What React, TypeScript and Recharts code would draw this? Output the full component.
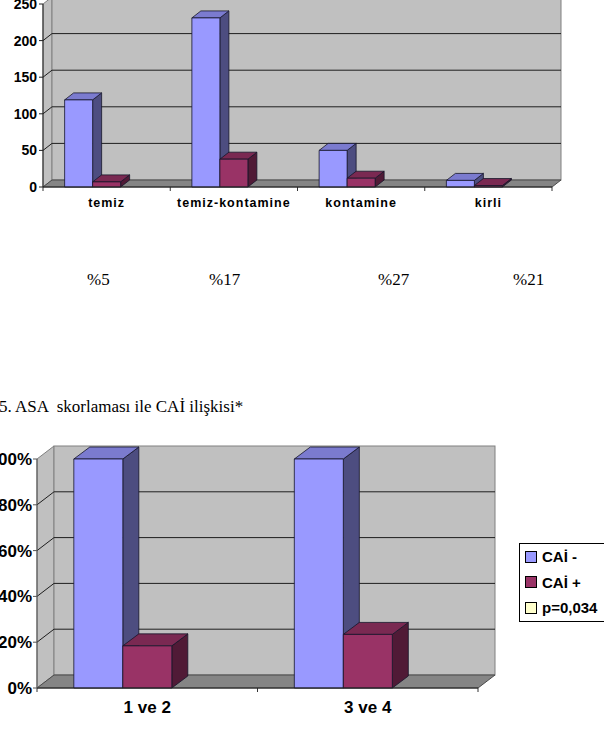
import { BarChart, Bar, XAxis, YAxis, ReferenceArea, Legend } from "recharts";

// Wound class chart (CAİ counts per class)
const woundClasses = ["temiz", "temiz-kontamine", "kontamine", "kirli"];
const woundNegative = [119, 231, 50, 9];
const woundPositive = [7, 38, 12, 2];
const woundTicks = [0, 50, 100, 150, 200, 250];
const woundRates = ["%5", "%17", "%27", "%21"];

// ASA score chart
const asaGroups = ["1 ve 2", "3 ve 4"];
const asaNegative = [100, 100];
const asaPositive = [18.4, 23.4];
const asaTicks = [0, 20, 40, 60, 80, 100];

const seriesNames = ["CAİ -", "CAİ +", "p=0,034"];
const caption = "5. ASA  skorlaması ile CAİ ilişkisi*";

const rateLeft = [87, 209, 378, 513];

const SANS = '"Liberation Sans", Arial, sans-serif';
const SERIF = '"Liberation Serif", "Times New Roman", serif';
const EDGE = "#15152a";

const BLUE = { front: "#9999FF", top: "#7B7BCF", side: "#4D4D80" };
const PLUM = { front: "#993366", top: "#7A2952", side: "#501A36" };
const CREAM = { front: "#FFFFCC", top: "#E0E0A8", side: "#A0A080" };

// Excel-style 3D column: front face, top face and right side face
function boxShape(dx: number, dy: number, top: string, side: string) {
  return (props: any) => {
    const { x, y, width, height, fill } = props;
    if (!height || !isFinite(height) || height <= 0) return <g />;
    const r = x + width;
    const b = y + height;
    return (
      <g stroke={EDGE} strokeWidth={0.8} strokeLinejoin="round">
        <polygon points={`${r},${b} ${r + dx},${b - dy} ${r + dx},${y - dy} ${r},${y}`} fill={side} />
        <polygon points={`${x},${y} ${x + dx},${y - dy} ${r + dx},${y - dy} ${r},${y}`} fill={top} />
        <rect x={x} y={y} width={width} height={height} fill={fill} />
      </g>
    );
  };
}

// back wall, side wall, floor, gridlines and the category boundary ticks
function frameShape(ticks: number[], max: number, cats: number, dx: number, dy: number) {
  return (props: any) => {
    const { x, y, width, height } = props;
    const b = y + height;
    const r = x + width;
    const level = (v: number) => b - (v / max) * height;
    return (
      <g>
        <polygon
          points={`${x},${b} ${x},${y} ${x + dx},${y - dy} ${x + dx},${b - dy}`}
          fill="#C0C0C0"
          stroke="#808080"
        />
        <rect x={x + dx} y={y - dy} width={width} height={height} fill="#C0C0C0" stroke="#808080" />
        <polygon
          points={`${x},${b} ${r},${b} ${r + dx},${b - dy} ${x + dx},${b - dy}`}
          fill="#858585"
          stroke="#4a4a4a"
        />
        {ticks
          .filter((t) => t > 0 && t < max)
          .map((t) => (
            <g key={t} stroke="#1e1e1e" strokeWidth={1}>
              <line x1={x} y1={level(t)} x2={x + dx} y2={level(t) - dy} />
              <line x1={x + dx} y1={level(t) - dy} x2={r + dx} y2={level(t) - dy} />
            </g>
          ))}
        {Array.from({ length: cats + 1 }, (_, i) => (
          <line
            key={i}
            x1={x + (i * width) / cats}
            x2={x + (i * width) / cats}
            y1={b}
            y2={b + 4}
            stroke="#333"
          />
        ))}
      </g>
    );
  };
}

function categoryTick(fontSize: number, spacing: number) {
  return (props: any) => (
    <text
      x={props.x}
      y={props.y}
      textAnchor="middle"
      dominantBaseline="central"
      fontFamily={SANS}
      fontWeight="bold"
      fontSize={fontSize}
      letterSpacing={spacing}
      fill="#000"
    >
      {props.payload.value}
    </text>
  );
}

function KeyBox({ payload }: any) {
  const items = [...(payload || [])].sort(
    (a: any, b: any) => seriesNames.indexOf(a.value) - seriesNames.indexOf(b.value)
  );
  return (
    <div style={{ border: "1px solid #000", background: "#fff", paddingLeft: 5, width: 95 }}>
      {items.map((item: any) => (
        <div
          key={item.value}
          style={{
            display: "flex",
            alignItems: "center",
            height: 25.5,
            fontFamily: SANS,
            fontWeight: "bold",
            fontSize: 15,
            color: "#000",
            whiteSpace: "nowrap",
          }}
        >
          <span
            style={{
              width: 10,
              height: 10,
              background: item.color,
              border: "1px solid #000",
              marginRight: 5,
              flex: "none",
            }}
          />
          {item.value}
        </div>
      ))}
    </div>
  );
}

const woundData = woundClasses.map((name, i) => ({
  name,
  neg: woundNegative[i],
  pos: woundPositive[i],
  p: null,
}));

const asaData = asaGroups.map((name, i) => ({
  name,
  neg: asaNegative[i],
  pos: asaPositive[i],
  p: null,
}));

const axisTickStyle = { fontFamily: SANS, fontWeight: "bold", fill: "#000" } as const;

export default function App() {
  return (
    <div
      style={{
        position: "absolute",
        left: 0,
        top: 0,
        width: 604,
        height: 747,
        overflow: "hidden",
        background: "#fff",
      }}
    >
      <div style={{ position: "absolute", left: 0, top: -20 }}>
        <BarChart
          width={604}
          height={237}
          data={woundData}
          margin={{ top: 24, right: 52, bottom: 0, left: 0 }}
          barCategoryGap="17%"
          barGap={0}
        >
          <ReferenceArea y1={0} y2={250} shape={frameShape(woundTicks, 250, woundClasses.length, 9, 7)} />
          <XAxis
            dataKey="name"
            height={30}
            axisLine={{ stroke: "#222" }}
            tickLine={false}
            tickSize={0}
            tickMargin={16}
            tick={categoryTick(12.5, 1)}
            interval={0}
          />
          <YAxis
            width={43}
            domain={[0, 250]}
            ticks={woundTicks}
            axisLine={{ stroke: "#222" }}
            tickLine={{ stroke: "#222" }}
            tickSize={4}
            tickMargin={2}
            tick={{ ...axisTickStyle, fontSize: 14 }}
          />
          <Bar dataKey="neg" name={seriesNames[0]} fill={BLUE.front} isAnimationActive={false} shape={boxShape(9, 7, BLUE.top, BLUE.side)} />
          <Bar dataKey="pos" name={seriesNames[1]} fill={PLUM.front} isAnimationActive={false} shape={boxShape(9, 7, PLUM.top, PLUM.side)} />
          {/* empty third series keeps the three-slot column spacing */}
          <Bar dataKey="p" name={seriesNames[2]} fill={CREAM.front} isAnimationActive={false} shape={boxShape(9, 7, CREAM.top, CREAM.side)} />
        </BarChart>
      </div>

      {woundRates.map((rate, i) => (
        <div
          key={rate}
          style={{
            position: "absolute",
            left: rateLeft[i],
            top: 271,
            fontFamily: SERIF,
            fontSize: 17,
            lineHeight: "17px",
            whiteSpace: "pre",
          }}
        >
          {rate}
        </div>
      ))}

      <div
        style={{
          position: "absolute",
          left: -1,
          top: 398,
          fontFamily: SERIF,
          fontSize: 17,
          lineHeight: "17px",
          whiteSpace: "pre",
        }}
      >
        {caption}
      </div>

      <div style={{ position: "absolute", left: 0, top: 430 }}>
        <BarChart
          width={604}
          height={298}
          data={asaData}
          margin={{ top: 29, right: 126, bottom: 0, left: 0 }}
          barCategoryGap="16.7%"
          barGap={0}
        >
          <ReferenceArea y1={0} y2={100} shape={frameShape(asaTicks, 100, asaGroups.length, 17, 13)} />
          <XAxis
            dataKey="name"
            height={40}
            axisLine={{ stroke: "#222" }}
            tickLine={false}
            tickSize={0}
            tickMargin={19}
            tick={categoryTick(17, 0)}
            interval={0}
          />
          <YAxis
            width={37}
            domain={[0, 100]}
            ticks={asaTicks}
            tickFormatter={(v: number) => `${v}%`}
            axisLine={{ stroke: "#555" }}
            tickLine={{ stroke: "#555" }}
            tickSize={4}
            tickMargin={1}
            tick={{ ...axisTickStyle, fontSize: 17 }}
          />
          <Legend
            layout="horizontal"
            verticalAlign="middle"
            content={KeyBox}
            wrapperStyle={{ left: 519, top: 113, width: 101, height: 80 }}
          />
          <Bar dataKey="neg" name={seriesNames[0]} fill={BLUE.front} isAnimationActive={false} shape={boxShape(16, 12, BLUE.top, BLUE.side)} />
          <Bar dataKey="pos" name={seriesNames[1]} fill={PLUM.front} isAnimationActive={false} shape={boxShape(16, 12, PLUM.top, PLUM.side)} />
          <Bar dataKey="p" name={seriesNames[2]} fill={CREAM.front} isAnimationActive={false} shape={boxShape(16, 12, CREAM.top, CREAM.side)} />
        </BarChart>
      </div>
    </div>
  );
}
